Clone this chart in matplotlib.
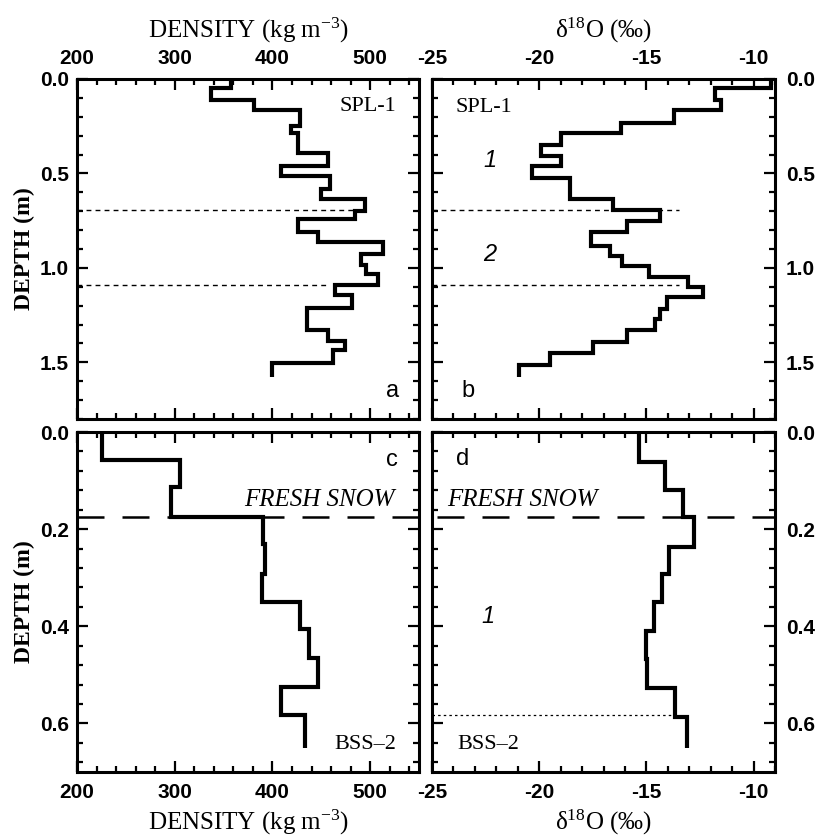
import matplotlib
matplotlib.use('Agg')
import matplotlib.pyplot as plt
from matplotlib.ticker import MultipleLocator, FormatStrFormatter
from matplotlib.lines import Line2D
import matplotlib.transforms as mtransforms

plt.rcParams['axes.unicode_minus'] = False
plt.rcParams['mathtext.fontset'] = 'custom'
plt.rcParams['mathtext.rm'] = 'Liberation Serif:weight=normal'
plt.rcParams['mathtext.it'] = 'Liberation Serif:style=italic:weight=normal'
plt.rcParams['mathtext.bf'] = 'Liberation Serif:weight=bold'
plt.rcParams['font.family'] = ['Liberation Sans', 'DejaVu Sans']
plt.rcParams['font.weight'] = 'bold'

# ---------------- data ----------------
# SPL-1 density (panel a): layer edges (m) and densities (kg m-3)
spl_dens_edges = [0, 0.049, 0.11, 0.163, 0.247, 0.286, 0.391, 0.461, 0.514, 0.584,
                  0.633, 0.698, 0.742, 0.812, 0.861, 0.926, 0.984, 1.03, 1.093, 1.142,
                  1.212, 1.33, 1.388, 1.435, 1.505, 1.575]
spl_density = [358, 337, 381, 428, 419, 426, 457, 409, 459, 450, 495, 484, 426, 447,
               513, 491, 496, 508, 464, 481, 435, 457, 474, 462, 400]

# SPL-1 d18O (panel b)
spl_o18_edges = [0, 0.045, 0.11, 0.163, 0.233, 0.286, 0.347, 0.409, 0.461, 0.523, 0.637,
                 0.693, 0.751, 0.812, 0.882, 0.935, 0.988, 1.049, 1.102, 1.154, 1.216,
                 1.268, 1.33, 1.391, 1.453, 1.514, 1.575]
spl_o18 = [-9.2, -11.8, -11.5, -13.7, -16.2, -19.0, -19.9, -19.0, -20.35, -18.55, -16.55,
           -14.35, -15.9, -17.6, -16.7, -16.15, -14.9, -13.05, -12.35, -14.05, -14.35,
           -14.6, -15.9, -17.5, -19.5, -20.95]

# BSS-2 density (panel c)
bss_dens_edges = [0, 0.058, 0.113, 0.174, 0.23, 0.292, 0.351, 0.406, 0.465, 0.526, 0.582, 0.65]
bss_density = [226, 305, 296, 390, 392, 389, 428, 437, 447, 409, 433]

# BSS-2 d18O (panel d)
bss_o18_edges = [0, 0.061, 0.12, 0.175, 0.236, 0.292, 0.351, 0.41, 0.468, 0.527, 0.586, 0.65]
bss_o18 = [-15.35, -14.15, -13.3, -12.8, -13.95, -14.25, -14.65, -15.0, -14.95, -13.65, -13.1]

# layer boundaries
spl_boundaries = [0.695, 1.09]
spl_boundary_dens_end = [483, 455]
spl_boundary_o18_end = [-13.5, -13.5]
fresh_snow_depth = 0.176
bss_boundary = 0.583
bss_boundary_o18_end = -13.75

# ---------------- figure ----------------
W, H = 818, 836
fig = plt.figure(figsize=(W / 100, H / 100), dpi=100)


def box(l, t, r, b):
    return [l / W, 1 - b / H, (r - l) / W, (b - t) / H]


ax_a = fig.add_axes(box(77, 79, 419, 419))
ax_b = fig.add_axes(box(432, 79, 775, 419))
ax_c = fig.add_axes(box(77, 432, 419, 772))
ax_d = fig.add_axes(box(432, 432, 775, 772))


def style(ax, xlim, ylim, xmaj, xmin, ymaj, ymin, xtop, yright, yfmt):
    ax.set_xlim(xlim)
    ax.set_ylim(ylim)
    for s in ax.spines.values():
        s.set_linewidth(2.2)
    ax.xaxis.set_major_locator(MultipleLocator(xmaj))
    ax.xaxis.set_minor_locator(MultipleLocator(xmin))
    ax.yaxis.set_major_locator(MultipleLocator(ymaj))
    ax.yaxis.set_minor_locator(MultipleLocator(ymin))
    ax.xaxis.set_major_formatter(FormatStrFormatter('%d'))
    ax.yaxis.set_major_formatter(FormatStrFormatter(yfmt))
    ax.tick_params(which='both', direction='in', top=True, bottom=True,
                   left=True, right=True, width=1.6, labelsize=15)
    ax.tick_params(which='major', length=8)
    ax.tick_params(which='minor', length=4.5)
    ax.tick_params(axis='x', pad=8)
    ax.tick_params(axis='y', pad=6 if not yright else 8)
    ax.tick_params(labeltop=xtop, labelbottom=not xtop,
                   labelleft=not yright, labelright=yright)


style(ax_a, (200, 550), (1.8, 0), 100, 20, 0.5, 0.1, True, False, '%.1f')
style(ax_b, (-25, -9), (1.8, 0), 5, 1, 0.5, 0.1, True, True, '%.1f')
style(ax_c, (200, 550), (0.7, 0), 100, 20, 0.2, 0.04, False, False, '%.1f')
style(ax_d, (-25, -9), (0.7, 0), 5, 1, 0.2, 0.04, False, True, '%.1f')

prof = dict(orientation='horizontal', baseline=None, color='black', lw=3.0)
ax_a.stairs(spl_density, spl_dens_edges, **prof)
ax_b.stairs(spl_o18, spl_o18_edges, **prof)
ax_c.stairs(bss_density, bss_dens_edges, **prof)
ax_d.stairs(bss_o18, bss_o18_edges, **prof)

# layer boundaries (dashed)
for dep, xe in zip(spl_boundaries, spl_boundary_dens_end):
    ax_a.plot([200, xe], [dep, dep], color='black', lw=1.0, linestyle=(0, (3.5, 3)))
for dep, xe in zip(spl_boundaries, spl_boundary_o18_end):
    ax_b.plot([-25, xe], [dep, dep], color='black', lw=1.0, linestyle=(0, (3.5, 3)))
ax_d.plot([-25, bss_boundary_o18_end], [bss_boundary, bss_boundary], color='black',
          lw=0.9, linestyle=(0, (2, 2.5)))

# fresh snow line across both lower panels
trans = mtransforms.blended_transform_factory(fig.transFigure, ax_c.transData)
fig.add_artist(Line2D([77 / W, 775 / W], [fresh_snow_depth, fresh_snow_depth],
                      transform=trans, color='black', lw=1.8,
                      linestyle=(0, (10.8, 7.2))))

# axis labels
serif = 'Liberation Serif'
ax_a.xaxis.set_label_position('top')
ax_b.xaxis.set_label_position('top')
ax_a.set_xlabel('DENSITY (kg m$^{-3}$)', fontfamily=serif, fontsize=18,
                fontweight='normal', labelpad=8)
ax_b.set_xlabel('δ$^{18}$O (‰)', fontfamily=serif, fontsize=18,
                fontweight='normal', labelpad=8)
ax_c.set_xlabel('DENSITY (kg m$^{-3}$)', fontfamily=serif, fontsize=18,
                fontweight='normal', labelpad=4)
ax_d.set_xlabel('δ$^{18}$O (‰)', fontfamily=serif, fontsize=18,
                fontweight='normal', labelpad=4)
ax_a.set_ylabel('DEPTH (m)', fontfamily=serif, fontsize=17, fontweight='bold', labelpad=3)
ax_c.set_ylabel('DEPTH (m)', fontfamily=serif, fontsize=17, fontweight='bold', labelpad=3)

# annotations
ser = dict(fontfamily=serif, fontsize=16, fontweight='normal')
ax_a.text(527, 0.147, 'SPL-1', ha='right', va='center', **ser)
ax_b.text(-23.9, 0.153, 'SPL-1', ha='left', va='center', **ser)
ax_c.text(527, 0.643, 'BSS–2', ha='right', va='center', **ser)
ax_d.text(-23.8, 0.643, 'BSS–2', ha='left', va='center', **ser)

fs = dict(fontfamily=serif, fontsize=18, fontweight='normal', style='italic')
ax_c.text(525, 0.14, 'FRESH SNOW', ha='right', va='center', **fs)
ax_d.text(-24.3, 0.14, 'FRESH SNOW', ha='left', va='center', **fs)

lab = dict(fontfamily='Liberation Sans', fontsize=17, fontweight='normal',
           ha='center', va='center')
ax_a.text(522.5, 1.65, 'a', **lab)
ax_b.text(-23.3, 1.65, 'b', **lab)
ax_c.text(522.5, 0.058, 'c', **lab)
ax_d.text(-23.55, 0.056, 'd', **lab)

num = dict(fontfamily='Liberation Sans', fontsize=17, fontweight='normal',
           style='italic', ha='center', va='center')
ax_b.text(-22.3, 0.43, '1', **num)
ax_b.text(-22.3, 0.93, '2', **num)
ax_d.text(-22.4, 0.379, '1', **num)

fig.savefig('out.png', dpi=100)
